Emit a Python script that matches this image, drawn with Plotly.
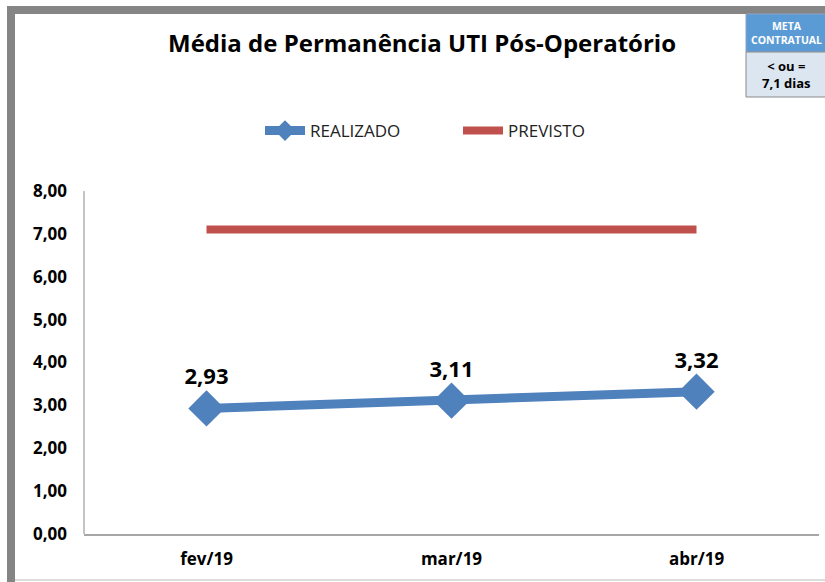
import plotly.graph_objects as go

# Chart data
meses = ["fev/19", "mar/19", "abr/19"]
realizado = [2.93, 3.11, 3.32]
previsto = [7.1, 7.1, 7.1]
y_ticks = [0, 1, 2, 3, 4, 5, 6, 7, 8]

W, H = 825, 582
ML, MR, MT, MB = 84, 6, 191, 48
PW, PH = W - ML - MR, H - MT - MB


def px(x):
    return (x - ML) / PW


def py(y):
    return (H - MB - y) / PH


def br(v):
    return f"{v:.2f}".replace(".", ",")


BLUE = "#4f81bd"
RED = "#c0504d"
FONT = "Open Sans"

fig = go.Figure()

fig.add_trace(go.Scatter(
    x=meses, y=realizado, name="REALIZADO",
    mode="lines+markers+text",
    line=dict(color=BLUE, width=9),
    marker=dict(symbol="diamond", size=28, color=BLUE),
    text=[br(v) for v in realizado],
    textposition="top center",
    textfont=dict(family=FONT, size=22, color="#000000", weight="bold"),
    cliponaxis=False,
))
fig.add_trace(go.Scatter(
    x=meses, y=previsto, name="PREVISTO",
    mode="lines",
    line=dict(color=RED, width=8),
))

shapes = [
    # outer frame
    dict(type="rect", xref="paper", yref="paper",
         x0=px(7), x1=px(826), y0=py(14), y1=py(6),
         fillcolor="#858585", line=dict(width=0), layer="below"),
    dict(type="rect", xref="paper", yref="paper",
         x0=px(7), x1=px(15), y0=py(583), y1=py(6),
         fillcolor="#858585", line=dict(width=0), layer="below"),
    dict(type="line", xref="paper", yref="paper",
         x0=px(15), x1=px(825), y0=py(580), y1=py(580),
         line=dict(color="#d0d0d0", width=1.5)),
    # goal box
    dict(type="rect", xref="paper", yref="paper",
         x0=px(746), x1=px(826), y0=py(52), y1=py(14),
         fillcolor="#5b9bd5", line=dict(color="#8aa4c8", width=1)),
    dict(type="rect", xref="paper", yref="paper",
         x0=px(746), x1=px(826), y0=py(97), y1=py(52),
         fillcolor="#dce6f1", line=dict(color="#8a8a8a", width=1)),
    # y axis line
    dict(type="line", xref="paper", yref="paper",
         x0=0, x1=0, y0=0, y1=1,
         line=dict(color="#b0b0b0", width=1.5)),
]

annotations = [
    dict(text="Média de Permanência UTI Pós-Operatório", xref="paper", yref="paper",
         x=px(422), y=py(42), showarrow=False, xanchor="center", yanchor="middle",
         font=dict(family=FONT, size=24, color="#000000", weight="bold")),
    dict(text="META<br>CONTRATUAL", xref="paper", yref="paper",
         x=px(786), y=py(33), showarrow=False, xanchor="center", yanchor="middle",
         font=dict(family=FONT, size=10.5, color="#ffffff", weight="bold")),
    dict(text="< ou =<br>7,1 dias", xref="paper", yref="paper",
         x=px(786), y=py(75), showarrow=False, xanchor="center", yanchor="middle",
         font=dict(family=FONT, size=13, color="#000000", weight="bold")),
]

fig.update_layout(
    width=W, height=H,
    margin=dict(l=ML, r=MR, t=MT, b=MB),
    paper_bgcolor="#ffffff", plot_bgcolor="#ffffff",
    showlegend=True,
    legend=dict(orientation="h", x=px(260), y=py(131), xanchor="left", yanchor="middle",
                font=dict(family=FONT, size=17, color="#222222"),
                itemwidth=40, entrywidth=143),
    shapes=shapes,
    annotations=annotations,
    xaxis=dict(
        type="category", range=[-0.5, 2.5],
        showgrid=False, zeroline=False,
        showline=True, linecolor="#a6a6a6", linewidth=1.5,
        ticks="", ticklabelstandoff=9,
        tickfont=dict(family=FONT, size=17, color="#000000", weight="bold"),
    ),
    yaxis=dict(
        range=[0, 8], tickvals=y_ticks,
        ticktext=[br(v) for v in y_ticks],
        showgrid=False, zeroline=False, showline=False,
        ticks="", ticklabelstandoff=16,
        tickfont=dict(family=FONT, size=17, color="#000000", weight="bold"),
    ),
)

fig.write_html("out.html")
